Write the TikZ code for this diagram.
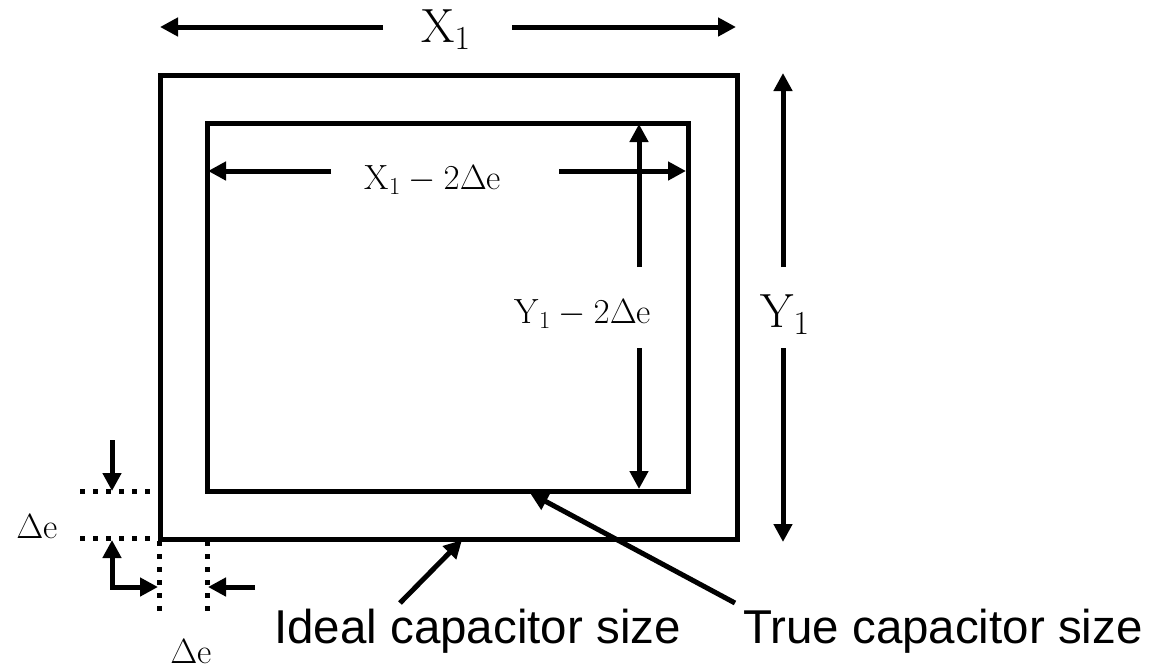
\RequirePackage{fix-cm}
\documentclass[tikz,border=0pt]{standalone}
\usepackage{fontspec}
\newfontfamily\capfont{Liberation Sans}
\usetikzlibrary{arrows.meta,positioning}

\tikzset{
  frame/.style={line width=5pt},
  dimarrow/.style={line width=5pt, -{Triangle[length=18pt,width=18pt]}},
  dimboth/.style={line width=5pt, {Triangle[length=18pt,width=18pt]}-{Triangle[length=18pt,width=18pt]}},
  dotline/.style={line width=5pt, dash pattern=on 5pt off 8pt},
  biglabel/.style={font=\fontsize{48}{50}\selectfont, inner sep=0pt, anchor=base},
  smalllabel/.style={font=\fontsize{35}{40}\selectfont, inner sep=0pt, anchor=base},
  captext/.style={font=\capfont\fontsize{47.5}{50}\selectfont, inner sep=0pt, anchor=base west}
}

\begin{document}
\begin{tikzpicture}[x=1pt,y=-1pt]
  \useasboundingbox (0,0) rectangle (1149,670);

  % 外框（理想尺寸）与内框（实际尺寸）
  \draw[frame] (160,75) rectangle (737,539);
  \draw[frame] (207,123) rectangle (688,491);

  % 标签
  \node[biglabel] (x1) at (446,42) {$\mathrm{X}_1$};
  \node[biglabel] (y1) at (785,327) {$\mathrm{Y}_1$};
  \node[smalllabel] (x1in) at (433,189) {$\mathrm{X}_1-2\Delta\mathrm{e}$};
  \node[smalllabel] (y1in) at (583,323) {$\mathrm{Y}_1-2\Delta\mathrm{e}$};
  \node[smalllabel] (deleft) at (37,538) {$\Delta\mathrm{e}$};
  \node[smalllabel] (debottom) at (191,663) {$\Delta\mathrm{e}$};
  \node[captext] (ideal) at (274,643) {Ideal capacitor size};
  \node[captext] (true) at (743,643) {True capacitor size};

  % 尺寸线端点
  \coordinate (x1a) at (383,27);  \coordinate (x1b) at (160,27);
  \coordinate (x1c) at (512,27);  \coordinate (x1d) at (736,27);
  \coordinate (y1a) at (783,267); \coordinate (y1b) at (783,73);
  \coordinate (y1c) at (783,348); \coordinate (y1d) at (783,542);
  \coordinate (xia) at (331,171); \coordinate (xib) at (208,171);
  \coordinate (xic) at (559,171); \coordinate (xid) at (686,171);
  \coordinate (yia) at (639,267); \coordinate (yib) at (639,124);
  \coordinate (yic) at (639,348); \coordinate (yid) at (639,489);

  % 尺寸箭头
  \draw[dimarrow] (x1a) -- (x1b);
  \draw[dimarrow] (x1c) -- (x1d);
  \draw[dimarrow] (y1a) -- (y1b);
  \draw[dimarrow] (y1c) -- (y1d);
  \draw[dimarrow] (xia) -- (xib);
  \draw[dimarrow] (xic) -- (xid);
  \draw[dimarrow] (yia) -- (yib);
  \draw[dimarrow] (yic) -- (yid);

  % 左下角 Δe 标注
  \coordinate (dl1) at (80,491);  \coordinate (dl2) at (158,491);
  \coordinate (dl3) at (80,538);  \coordinate (dl4) at (160,538);
  \coordinate (dv1) at (159,541); \coordinate (dv2) at (159,618);
  \coordinate (dv3) at (207,541); \coordinate (dv4) at (207,618);
  \draw[dotline] (dl1) -- (dl2);
  \draw[dotline] (dl3) -- (dl4);
  \draw[dotline] (dv1) -- (dv2);
  \draw[dotline] (dv3) -- (dv4);

  \coordinate (downa) at (112,440); \coordinate (downb) at (112,491);
  \coordinate (ela) at (112,540);   \coordinate (elb) at (158,587);
  \coordinate (lefta) at (255,587); \coordinate (leftb) at (208,587);
  \draw[dimarrow] (downa) -- (downb);
  \draw[dimboth] (ela) |- (elb);
  \draw[dimarrow] (lefta) -- (leftb);

  % 指示箭头
  \coordinate (idealtail) at (400,603); \coordinate (idealtip) at (462,540);
  \coordinate (truetail) at (735,603);  \coordinate (truetip) at (530,493);
  \draw[dimarrow] (idealtail) -- (idealtip);
  \draw[dimarrow] (truetail) -- (truetip);
\end{tikzpicture}
\end{document}
